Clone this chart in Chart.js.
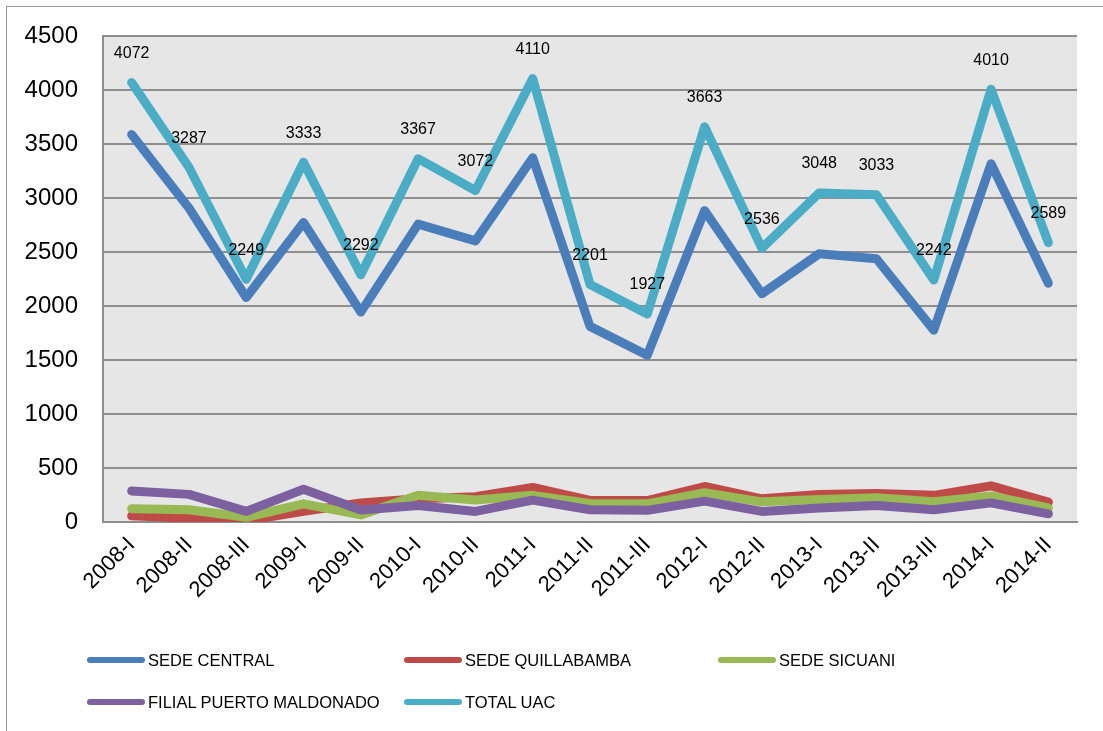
<!DOCTYPE html>
<html>
<head>
<meta charset="utf-8">
<script src="https://cdn.jsdelivr.net/npm/chart.js@4.4.0/dist/chart.umd.min.js"></script>
<style>
  html, body { margin: 0; padding: 0; background: #ffffff; }
  #wrap { position: relative; width: 1103px; height: 731px; overflow: hidden; background: #fff; }
  #frame { position: absolute; left: 6px; top: 6px; width: 1200px; height: 800px;
           border-left: 1.5px solid #9a9a9a; border-top: 1.5px solid #9a9a9a; box-sizing: border-box; }
  canvas { position: absolute; left: 0; top: -3px; }
  .leg { position: absolute; height: 20px; display: flex; align-items: center;
         font-family: "Liberation Sans", Arial, sans-serif; font-size: 16.5px; color: #000; white-space: nowrap; }
  .leg .sw { width: 58px; height: 6px; border-radius: 3px; margin-right: 3px; }
</style>
</head>
<body>
<div id="wrap">
  <div id="frame"></div>
  <canvas id="c" width="1103" height="734"></canvas>
  <div id="legend"></div>
</div>
<script>
const categories = ['2008-I','2008-II','2008-III','2009-I','2009-II','2010-I','2010-II','2011-I','2011-II','2011-III','2012-I','2012-II','2013-I','2013-II','2013-III','2014-I','2014-II'];
const seriesNames = ['SEDE CENTRAL','SEDE QUILLABAMBA','SEDE SICUANI','FILIAL PUERTO MALDONADO','TOTAL UAC'];
const sedeCentral = [3590, 2910, 2080, 2775, 1945, 2760, 2605, 3375, 1813, 1546, 2885, 2115, 2486, 2440, 1778, 3320, 2212];
const sedeQuillabamba = [57, 35, 13, 98, 177, 215, 234, 320, 200, 199, 329, 215, 256, 263, 247, 335, 184];
const sedeSicuani = [123, 114, 44, 168, 66, 247, 203, 247, 172, 168, 272, 187, 209, 225, 187, 241, 130];
const filialMaldonado = [288, 256, 98, 304, 111, 152, 98, 203, 114, 108, 193, 98, 130, 152, 114, 177, 76];
const totalUAC = [4072, 3287, 2249, 3333, 2292, 3367, 3072, 4110, 2201, 1927, 3663, 2536, 3048, 3033, 2242, 4010, 2589];
const yTicks = [0, 500, 1000, 1500, 2000, 2500, 3000, 3500, 4000, 4500];

const colors = ['#4A7EBB', '#BE4B48', '#98B954', '#7D60A0', '#4BACC6'];
const allData = [sedeCentral, sedeQuillabamba, sedeSicuani, filialMaldonado, totalUAC];

const datasets = allData.map((d, i) => ({
  label: seriesNames[i],
  data: d,
  borderColor: colors[i],
  backgroundColor: colors[i],
  borderWidth: 9,
  pointRadius: 0,
  pointHoverRadius: 0,
  tension: 0,
  fill: false,
  borderCapStyle: 'round',
  borderJoinStyle: 'round',
  order: 4 - i
}));

const plotBg = {
  id: 'plotBg',
  beforeDraw(chart) {
    const { ctx, chartArea: a } = chart;
    ctx.save();
    ctx.fillStyle = '#E6E6E6';
    ctx.fillRect(a.left, a.top, a.right - a.left, a.bottom - a.top);
    ctx.restore();
  }
};

const totalLabels = {
  id: 'totalLabels',
  afterDatasetsDraw(chart) {
    const ctx = chart.ctx;
    const meta = chart.getDatasetMeta(4);
    ctx.save();
    ctx.font = '16px "Liberation Sans", Arial, sans-serif';
    ctx.fillStyle = '#000';
    ctx.textAlign = 'center';
    ctx.textBaseline = 'middle';
    meta.data.forEach((pt, i) => {
      ctx.fillText(String(totalUAC[i]), pt.x, pt.y - 29);
    });
    ctx.restore();
  }
};

new Chart(document.getElementById('c'), {
  type: 'line',
  data: { labels: categories, datasets },
  options: {
    responsive: false,
    animation: false,
    events: [],
    layout: { padding: { left: 0, top: 32, right: 26, bottom: 0 } },
    plugins: { legend: { display: false }, tooltip: { enabled: false } },
    scales: {
      x: {
        offset: true,
        grid: { display: false, drawTicks: false },
        border: { display: true, color: '#8e8e8e', width: 2 },
        ticks: {
          autoSkip: false, maxRotation: 45, minRotation: 45, padding: 10,
          color: '#000', font: { family: '"Liberation Sans", Arial, sans-serif', size: 22 }
        },
        afterFit(s) { s.height = 209; }
      },
      y: {
        min: 0, max: 4500,
        afterBuildTicks(s) { s.ticks = yTicks.map(v => ({ value: v })); },
        grid: { color: '#8e8e8e', lineWidth: 2, drawTicks: false },
        border: { display: true, color: '#8e8e8e', width: 2 },
        ticks: {
          padding: 25, color: '#000',
          font: { family: '"Liberation Sans", Arial, sans-serif', size: 24 },
          callback: (v) => String(v)
        },
        afterFit(s) { s.width = 103; }
      }
    }
  },
  plugins: [plotBg, totalLabels]
});

// Legend (Excel-like grid layout)
const legendPos = [[87, 650], [404, 650], [718, 650], [87, 692], [404, 692]];
const legend = document.getElementById('legend');
seriesNames.forEach((n, i) => {
  const el = document.createElement('div');
  el.className = 'leg';
  el.style.left = legendPos[i][0] + 'px';
  el.style.top = legendPos[i][1] + 'px';
  el.innerHTML = '<div class="sw" style="background:' + colors[i] + '"></div><span>' + n + '</span>';
  legend.appendChild(el);
});
</script>
</body>
</html>
